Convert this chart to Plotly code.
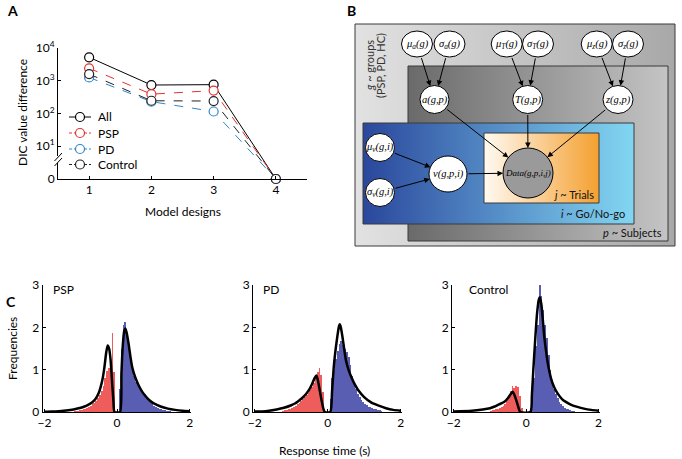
import math
import plotly.graph_objects as go

W, H = 682, 459
FONT = "Lato"

# ---------------- Panel A data ----------------
models = [1, 2, 3, 4]
dic_all = [5200, 740, 760, 0]
dic_psp = [2400, 390, 500, 0]
dic_pd = [1260, 230, 115, 0]
dic_control = [1600, 245, 240, 0]
a_ytick_vals = [1, 10, 100, 1000, 10000]
a_ytick_text = ["0", "10<sup>1</sup>", "10<sup>2</sup>", "10<sup>3</sup>", "10<sup>4</sup>"]
series_names = ["All", "PSP", "PD", "Control"]

# ---------------- Panel C data ----------------
psp_red_x = [-1.175, -1.125, -1.075, -1.025, -0.975, -0.925, -0.875, -0.825, -0.775, -0.725, -0.675, -0.625,
             -0.575, -0.525, -0.475, -0.425, -0.375, -0.325, -0.275, -0.225, -0.175, -0.125, -0.075]
psp_red_y = [0.02, 0.03, 0.03, 0.04, 0.05, 0.06, 0.08, 0.10, 0.12, 0.14, 0.18, 0.22,
             0.27, 0.33, 0.40, 0.50, 0.62, 0.80, 0.98, 1.05, 1.10, 1.87, 0.95]
psp_blue_x = [0.075, 0.125, 0.175, 0.225, 0.275, 0.325, 0.375, 0.425, 0.475, 0.525, 0.575, 0.625, 0.675,
              0.725, 0.775, 0.825, 0.875, 0.925, 0.975, 1.025, 1.075, 1.125, 1.175, 1.225, 1.275, 1.325,
              1.375, 1.425, 1.475]
psp_blue_y = [0.55, 1.5, 2.05, 2.12, 1.85, 1.5, 1.2, 1.0, 0.85, 0.72, 0.64, 0.56, 0.5,
              0.47, 0.42, 0.35, 0.3, 0.24, 0.18, 0.14, 0.11, 0.09, 0.07, 0.06, 0.05, 0.04,
              0.03, 0.03, 0.02]
psp_fit_x = [-2.0, -1.8, -1.6, -1.4, -1.2, -1.0, -0.9, -0.8, -0.7, -0.6, -0.5, -0.45, -0.4, -0.35, -0.3,
             -0.26, -0.22, -0.18, -0.14, -0.1, -0.07, 0.08, 0.12, 0.16, 0.2, 0.23, 0.27, 0.32, 0.37,
             0.42, 0.5, 0.6, 0.7, 0.8, 0.9, 1.0, 1.2, 1.4, 1.6, 1.8, 2.0]
psp_fit_y = [0.005, 0.01, 0.02, 0.035, 0.06, 0.1, 0.13, 0.17, 0.22, 0.3, 0.46, 0.6, 0.78, 1.05, 1.4,
             1.57, 1.5, 1.25, 0.75, 0.25, 0.0, 0.0, 0.9, 1.6, 1.92, 1.97, 1.85, 1.6, 1.3,
             1.05, 0.82, 0.62, 0.47, 0.36, 0.27, 0.21, 0.13, 0.08, 0.05, 0.03, 0.02]

pd_red_x = [-1.225, -1.175, -1.125, -1.075, -1.025, -0.975, -0.925, -0.875, -0.825, -0.775, -0.725, -0.675,
            -0.625, -0.575, -0.525, -0.475, -0.425, -0.375, -0.325, -0.275, -0.225, -0.175, -0.125]
pd_red_y = [0.03, 0.04, 0.05, 0.06, 0.07, 0.09, 0.11, 0.14, 0.18, 0.22, 0.26, 0.3,
            0.35, 0.4, 0.46, 0.52, 0.6, 0.68, 0.85, 0.95, 1.04, 0.87, 0.48]
pd_blue_x = [0.075, 0.125, 0.175, 0.225, 0.275, 0.325, 0.375, 0.425, 0.475, 0.525, 0.575, 0.625, 0.675,
             0.725, 0.775, 0.825, 0.875, 0.925, 0.975, 1.025, 1.075, 1.125, 1.175, 1.225, 1.275, 1.325,
             1.375, 1.425, 1.475]
pd_blue_y = [0.3, 0.8, 1.0, 1.25, 1.45, 1.6, 1.68, 1.58, 1.5, 1.42, 1.3, 1.1, 0.85,
             0.68, 0.55, 0.42, 0.35, 0.29, 0.24, 0.2, 0.16, 0.13, 0.11, 0.09, 0.07, 0.06,
             0.05, 0.04, 0.03]
pd_fit_x = [-2.0, -1.7, -1.4, -1.2, -1.0, -0.9, -0.8, -0.7, -0.6, -0.5, -0.42, -0.36, -0.31, -0.27, -0.22,
            -0.17, -0.12, -0.08, 0.07, 0.12, 0.17, 0.22, 0.27, 0.31, 0.33, 0.36, 0.4, 0.45, 0.5, 0.57,
            0.65, 0.75, 0.85, 1.0, 1.2, 1.4, 1.6, 1.8, 2.0]
pd_fit_y = [0.01, 0.02, 0.06, 0.1, 0.16, 0.2, 0.26, 0.33, 0.42, 0.54, 0.68, 0.8, 0.86, 0.75, 0.52,
            0.28, 0.08, 0.0, 0.0, 0.5, 1.1, 1.5, 1.82, 2.03, 2.07, 2.0, 1.8, 1.5, 1.22, 1.0,
            0.82, 0.64, 0.5, 0.35, 0.22, 0.15, 0.09, 0.05, 0.03]

ctl_red_x = [-0.975, -0.925, -0.875, -0.825, -0.775, -0.725, -0.675, -0.625, -0.575, -0.525, -0.475,
             -0.425, -0.375, -0.325, -0.275, -0.225, -0.175, -0.125]
ctl_red_y = [0.03, 0.04, 0.05, 0.06, 0.08, 0.1, 0.12, 0.15, 0.2, 0.28, 0.36,
             0.5, 0.62, 0.56, 0.62, 0.6, 0.38, 0.1]
ctl_blue_x = [0.125, 0.175, 0.225, 0.275, 0.325, 0.375, 0.425, 0.475, 0.525, 0.575, 0.625, 0.675, 0.725,
              0.775, 0.825, 0.875, 0.925, 0.975, 1.025, 1.075, 1.125, 1.175, 1.225, 1.275, 1.325]
ctl_blue_y = [0.1, 0.35, 0.8, 1.55, 2.05, 3.0, 2.75, 2.4, 2.05, 1.75, 1.35, 1.0, 0.75,
              0.55, 0.42, 0.32, 0.24, 0.18, 0.14, 0.1, 0.08, 0.06, 0.04, 0.03, 0.02]
ctl_fit_x = [-2.0, -1.5, -1.2, -1.0, -0.87, -0.75, -0.6, -0.5, -0.42, -0.37, -0.3, -0.23, -0.16, 0.12,
             0.16, 0.2, 0.25, 0.3, 0.35, 0.38, 0.42, 0.46, 0.5, 0.55, 0.6, 0.69, 0.78, 0.87, 1.0, 1.1,
             1.25, 1.42, 1.6, 1.8, 2.0]
ctl_fit_y = [0.01, 0.03, 0.06, 0.09, 0.13, 0.18, 0.24, 0.33, 0.43, 0.48, 0.35, 0.16, 0.0, 0.0,
             0.4, 1.0, 1.69, 2.3, 2.65, 2.71, 2.55, 2.2, 1.8, 1.45, 1.15, 0.79, 0.58, 0.44, 0.3, 0.24,
             0.17, 0.12, 0.08, 0.05, 0.03]

c_groups = ["PSP", "PD", "Control"]
c_xticks = [-2, 0, 2]
c_yticks = [0, 1, 2, 3]

# ---------------- Panel B diagram (pixel layout) ----------------
# key: (label, cx, cy, rx, ry, fill)
nodes = {
    "mua": ("μ<sub>a</sub>(g)", 417, 44, 15.5, 13, "white"),
    "sa": ("σ<sub>a</sub>(g)", 449.5, 44, 15.5, 13, "white"),
    "muT": ("μ<sub>T</sub>(g)", 506.7, 44, 15.5, 13, "white"),
    "sT": ("σ<sub>T</sub>(g)", 538, 44, 15.5, 13, "white"),
    "muz": ("μ<sub>z</sub>(g)", 596.7, 44, 15.5, 13, "white"),
    "sz": ("σ<sub>z</sub>(g)", 628, 44, 15.5, 13, "white"),
    "a": ("a(g,p)", 434.5, 99.5, 14.5, 14, "white"),
    "T": ("T(g,p)", 527.7, 99.5, 15, 14, "white"),
    "z": ("z(g,p)", 618, 99.5, 15, 14, "white"),
    "muv": ("μ<sub>v</sub>(g,i)", 380, 147.5, 14.5, 14, "white"),
    "sv": ("σ<sub>v</sub>(g,i)", 380, 192.5, 14.5, 14, "white"),
    "v": ("v(g,p,i)", 448, 174, 19, 18, "white"),
    "data": ("Data(g,p,i,j)", 528, 173, 25, 25, "#9a9a9a"),
}
edges = [("mua", "a"), ("sa", "a"), ("muT", "T"), ("sT", "T"), ("muz", "z"), ("sz", "z"),
         ("a", "data"), ("T", "data"), ("z", "data"), ("muv", "v"), ("sv", "v"), ("v", "data")]
# plates: (x0, y0, x1, y1, left colour, right colour)
plates = [
    (355, 24, 675, 246, "#e2e2e2", "#a8a8a8"),
    (408, 66, 668, 241, "#6a6a6a", "#c4c4c4"),
    (363, 123, 634, 224, "#2a479c", "#82d6f2"),
    (484, 133, 599, 203, "#fffaf2", "#f4a030"),
]


def px_x(p):
    return p / W


def px_y(p):
    return 1 - p / H


fig = go.Figure()

# ---- Panel A traces ----
series = [("All", dic_all, "black", "solid"), ("PSP", dic_psp, "#e0342e", "dash"),
          ("PD", dic_pd, "#2f86c8", "dash"), ("Control", dic_control, "#222222", "dash")]
for name, vals, col, dash in series:
    yv = [v if v > 0 else 1 for v in vals]
    fig.add_trace(go.Scatter(x=models, y=yv, name=name, mode="lines+markers", xaxis="x", yaxis="y",
                             line=dict(color=col, width=1, dash=dash),
                             marker=dict(symbol="circle", size=9, color="white", line=dict(color=col, width=1.2)),
                             cliponaxis=False, showlegend=False))

# ---- manual legend for panel A (legend axis in pixel units) ----
leg_rows_y = [117, 133, 149, 164.5]
annotations = []
for (name, vals, col, dash), ly in zip(series, leg_rows_y):
    fig.add_trace(go.Scatter(x=[69, 80, 91], y=[ly, ly, ly], mode="lines", xaxis="x6", yaxis="y6",
                             line=dict(color=col, width=1, dash="solid" if dash == "solid" else "3px,2px"),
                             showlegend=False, hoverinfo="skip"))
    fig.add_trace(go.Scatter(x=[80], y=[ly], mode="markers", xaxis="x6", yaxis="y6",
                             marker=dict(symbol="circle", size=9, color="white", line=dict(color=col, width=1.2)),
                             showlegend=False, hoverinfo="skip", cliponaxis=False))
    annotations.append(dict(xref="x6", yref="y6", x=96, y=ly, text=name, showarrow=False,
                            xanchor="left", yanchor="middle", font=dict(family=FONT, size=12, color="black")))

# ---- Panel C traces ----
c_data = [(psp_red_x, psp_red_y, psp_blue_x, psp_blue_y, psp_fit_x, psp_fit_y),
          (pd_red_x, pd_red_y, pd_blue_x, pd_blue_y, pd_fit_x, pd_fit_y),
          (ctl_red_x, ctl_red_y, ctl_blue_x, ctl_blue_y, ctl_fit_x, ctl_fit_y)]
for i, (rx, ry, bx, by, fx, fy) in enumerate(c_data):
    xa, ya = "x%d" % (i + 2), "y%d" % (i + 2)
    fig.add_trace(go.Bar(x=rx, y=ry, width=0.05, marker=dict(color="#ee5c5c", line=dict(width=0)),
                         xaxis=xa, yaxis=ya, showlegend=False))
    fig.add_trace(go.Bar(x=bx, y=by, width=0.05, marker=dict(color="#5a5eb2", line=dict(width=0)),
                         xaxis=xa, yaxis=ya, showlegend=False))
    fig.add_trace(go.Scatter(x=fx, y=fy, mode="lines",
                             line=dict(color="black", width=2.5, shape="spline", smoothing=0.6),
                             xaxis=xa, yaxis=ya, showlegend=False, cliponaxis=False))

# ---- Panel B plates ----
for (x0, y0, x1, y1, c0, c1) in plates:
    fig.add_trace(go.Scatter(x=[x0, x1, x1, x0, x0], y=[y0, y0, y1, y1, y0], mode="lines", fill="toself",
                             fillgradient=dict(type="horizontal", colorscale=[[0, c0], [1, c1]]),
                             line=dict(color="#3a3a3a", width=1), xaxis="x5", yaxis="y5",
                             showlegend=False, hoverinfo="skip"))

shapes = []
for key, (lab, cx, cy, rx, ry, fill) in nodes.items():
    shapes.append(dict(type="circle", xref="x5", yref="y5", x0=cx - rx, x1=cx + rx, y0=cy - ry, y1=cy + ry,
                       fillcolor=fill, line=dict(color="black", width=1), layer="above"))
    annotations.append(dict(xref="x5", yref="y5", x=cx, y=cy, text="<i>%s</i>" % lab, showarrow=False,
                            xanchor="center", yanchor="middle",
                            font=dict(family="Liberation Serif", size=9 if key == "data" else 10.5,
                                      color="black")))

for s, t in edges:
    _, sx, sy, srx, sry, _ = nodes[s]
    _, tx, ty, trx, tryy, _ = nodes[t]
    dx, dy = tx - sx, ty - sy
    d = math.hypot(dx, dy)
    ux, uy = dx / d, dy / d

    def rad(rx, ry):
        return 1 / math.sqrt((ux / rx) ** 2 + (uy / ry) ** 2)

    x0, y0 = sx + ux * rad(srx, sry), sy + uy * rad(srx, sry)
    x1, y1 = tx - ux * rad(trx, tryy), ty - uy * rad(trx, tryy)
    annotations.append(dict(xref="x5", yref="y5", axref="x5", ayref="y5", x=x1, y=y1, ax=x0, ay=y0,
                            text="", showarrow=True, arrowhead=2, arrowsize=1.1, arrowwidth=1,
                            arrowcolor="black", standoff=0, startstandoff=0))

# plate labels
annotations += [
    dict(xref="x5", yref="y5", x=369, y=66, text="<i>g</i> ~ groups", textangle=-90, showarrow=False,
         xanchor="center", yanchor="middle", font=dict(family=FONT, size=11, color="#333")),
    dict(xref="x5", yref="y5", x=380, y=66, text="(PSP, PD, HC)", textangle=-90, showarrow=False,
         xanchor="center", yanchor="middle", font=dict(family=FONT, size=11, color="#333")),
    dict(xref="x5", yref="y5", x=664, y=232, xanchor="right", yanchor="middle", text="<i>p</i> ~ Subjects",
         showarrow=False, font=dict(family=FONT, size=11, color="#111")),
    dict(xref="x5", yref="y5", x=627, y=213, xanchor="right", yanchor="middle", text="<i>i</i> ~ Go/No-go",
         showarrow=False, font=dict(family=FONT, size=11, color="#111")),
    dict(xref="x5", yref="y5", x=596, y=194, xanchor="right", yanchor="middle", text="<i>j</i> ~ Trials",
         showarrow=False, font=dict(family=FONT, size=11, color="#111")),
]


def pa(x, y, text, size=12, xanchor="center", **kw):
    d = dict(xref="paper", yref="paper", x=px_x(x), y=px_y(y), text=text, showarrow=False,
             xanchor=xanchor, yanchor="middle", font=dict(family=FONT, size=size, color="black"))
    d.update(kw)
    return d


annotations += [
    pa(12, 11, "<b>A</b>", 14),
    pa(351, 11, "<b>B</b>", 14),
    pa(11, 301, "<b>C</b>", 14),
    pa(183, 211, "Model designs", 12),
    pa(23, 113, "DIC value difference", 12, textangle=-90),
    pa(12, 349, "Frequencies", 12, textangle=-90),
    pa(324, 450, "Response time (s)", 12),
    pa(51, 289, c_groups[0], 12, xanchor="left"),
    pa(261, 289, c_groups[1], 12, xanchor="left"),
    pa(467, 289, c_groups[2], 12, xanchor="left"),
]

# broken-axis marks on panel A
shapes += [
    dict(type="rect", xref="paper", yref="paper", x0=px_x(56), x1=px_x(60), y0=px_y(163), y1=px_y(156),
         fillcolor="white", line=dict(width=0), layer="above"),
    dict(type="line", xref="paper", yref="paper", x0=px_x(54.5), y0=px_y(161), x1=px_x(62), y1=px_y(153),
         line=dict(color="black", width=1), layer="above"),
    dict(type="line", xref="paper", yref="paper", x0=px_x(54.5), y0=px_y(166), x1=px_x(62), y1=px_y(158),
         line=dict(color="black", width=1), layer="above"),
]

axis_common = dict(showgrid=False, zeroline=False, showline=True, linecolor="black", linewidth=1,
                   ticks="inside", ticklen=3, tickcolor="black", automargin=False,
                   tickfont=dict(family=FONT, size=12, color="black"))
hidden = dict(visible=False, fixedrange=True, automargin=False, showgrid=False, zeroline=False)

layout = dict(
    template="none",
    width=W, height=H, margin=dict(l=0, r=0, t=0, b=0, pad=0, autoexpand=False),
    paper_bgcolor="white", plot_bgcolor="rgba(0,0,0,0)",
    font=dict(family=FONT, size=12, color="black"),
    barmode="overlay", bargap=0,
    showlegend=False,
    xaxis=dict(domain=[px_x(58), px_x(307)], range=[0.5, 4.5], tickvals=models, anchor="y", **axis_common),
    yaxis=dict(domain=[px_y(179), px_y(48)], type="log", range=[0, 4], tickvals=a_ytick_vals,
               ticktext=a_ytick_text, anchor="x", **axis_common),
    xaxis5=dict(domain=[px_x(340), 1], range=[340, 682], anchor="y5", **hidden),
    yaxis5=dict(domain=[px_y(260), 1], range=[260, 0], anchor="x5", **hidden),
    xaxis6=dict(domain=[px_x(60), px_x(140)], range=[60, 140], anchor="y6", **hidden),
    yaxis6=dict(domain=[px_y(175), px_y(105)], range=[175, 105], anchor="x6", **hidden),
    shapes=shapes, annotations=annotations,
)
c_dom = [(42.7, 190.7), (253, 401.7), (452, 599.5)]
for i, (l, r) in enumerate(c_dom):
    layout["xaxis%d" % (i + 2)] = dict(domain=[px_x(l), px_x(r)], range=[-2.05, 2.03], tickvals=c_xticks,
                                       anchor="y%d" % (i + 2), **axis_common)
    layout["yaxis%d" % (i + 2)] = dict(domain=[px_y(412), px_y(285)], range=[0, 3], tickvals=c_yticks,
                                       anchor="x%d" % (i + 2), **axis_common)

fig.update_layout(**layout)
fig.write_html("out.html", config={"displayModeBar": False, "staticPlot": True},
               post_script="document.body.style.margin='0px';document.body.style.overflow='hidden';")
